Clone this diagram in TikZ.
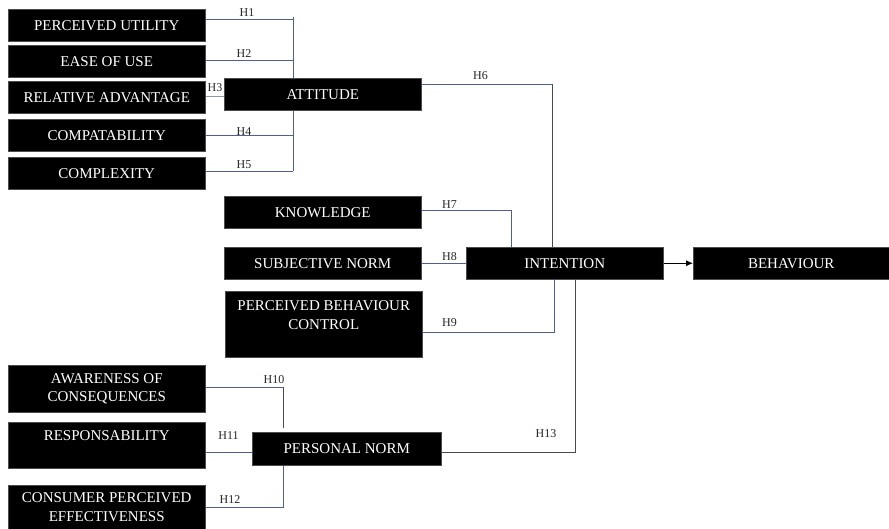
\documentclass[tikz,border=0pt]{standalone}
\usepackage{fontspec}
\setmainfont{Liberation Serif}
\usetikzlibrary{arrows.meta}
\pgfdeclarelayer{background}
\pgfsetlayers{background,main}
\definecolor{linkblue}{RGB}{78,96,145}
\definecolor{linkgray}{RGB}{75,75,75}
\tikzset{
  box/.style={fill=black, draw=black!70, line width=0.5pt, text=white, anchor=north west, inner sep=0pt,
    minimum width=197pt, minimum height=32pt, align=center, font=\fontsize{15}{18.5}\selectfont},
  hlabel/.style={font=\fontsize{12}{14}\selectfont, inner sep=0pt, text=black!85},
  link/.style={draw=linkblue, line width=0.9pt},
  glink/.style={draw=linkgray, line width=0.9pt},
}
\begin{document}
\begin{tikzpicture}[x=1pt,y=-1pt]
\useasboundingbox (0,0) rectangle (889,529);
% boxes
\node[box] (pu) at (8,9) {PERCEIVED UTILITY};
\node[box] (eou) at (8,45) {EASE OF USE};
\node[box] (ra) at (8,81) {RELATIVE ADVANTAGE};
\node[box] (comp) at (8,119) {COMPATABILITY};
\node[box] (cx) at (8,157) {COMPLEXITY};
\node[box] (att) at (224,78) {ATTITUDE};
\node[box] (kn) at (224,196) {KNOWLEDGE};
\node[box] (sn) at (224,247) {SUBJECTIVE NORM};
\node[box, minimum height=66pt] (pbc) at (225,291) {PERCEIVED BEHAVIOUR\\CONTROL\\\mbox{}};
\node[box] (int) at (466,247) {INTENTION};
\node[box, minimum width=196pt] (beh) at (693,247) {BEHAVIOUR};
\node[box, minimum height=47pt] (aw) at (8,365) {AWARENESS OF\\CONSEQUENCES};
\node[box, minimum height=46pt] (resp) at (8,422) {RESPONSABILITY\\\mbox{}};
\node[box, minimum height=44pt] (cpe) at (8,485) {CONSUMER PERCEIVED\\EFFECTIVENESS};
\node[box, minimum width=189pt, minimum height=33pt] (pn) at (252,432) {PERSONAL NORM};
% connectors
\begin{pgfonlayer}{background}
\coordinate (bus) at (293,17);
\coordinate (busend) at (293,171);
\draw[link] (bus) -- (busend);
\draw[link] (pu.east |- 0,19) -- (bus |- 0,19);
\draw[link] (eou.east |- 0,60) -- (bus |- 0,60);
\draw[link] (ra.east |- 0,96) -- (att.west |- 0,96) -- ++(4,0);
\draw[link] (comp.east |- 0,135) -- (bus |- 0,135);
\draw[link] (cx.east |- 0,171) -- (busend);
\coordinate (h6) at (552,84);
\draw[link] (att.east |- h6) -- (h6);
\draw[glink] (h6) -- (h6 |- int.north);
\coordinate (h7) at (511,210);
\draw[link] (kn.east |- h7) -- (h7) -- (h7 |- int.north);
\draw[link] (sn.east) -- (int.west) -- ++(4,0);
\coordinate (h9) at (554,332);
\draw[link] (pbc.east |- h9) -- (h9) -- (h9 |- int.south);
\coordinate (h13) at (575,452);
\draw[glink] (pn.east |- h13) -- (h13) -- (h13 |- int.south);
\coordinate (h10) at (283,387);
\draw[link] (aw.east |- h10) -- (h10);
\draw[glink] (h10) -- (283,428);
\draw[link] (resp.east |- 0,452) -- (pn.west |- 0,452);
\coordinate (h12) at (283,507);
\draw[link] (cpe.east |- h12) -- (h12) -- (h12 |- pn.south);
\end{pgfonlayer}
\draw[black, line width=0.9pt, -{Latex[length=7pt,width=6pt]}] (int.east) -- (beh.west);
% labels
\node[hlabel] (l1) at (247,12.5) {H1};
\node[hlabel] (l2) at (244,54) {H2};
\node[hlabel] (l3) at (215,87.5) {H3};
\node[hlabel] (l4) at (244,131.5) {H4};
\node[hlabel] (l5) at (244,164.5) {H5};
\node[hlabel] (l6) at (480.5,75.5) {H6};
\node[hlabel] (l7) at (449.5,205) {H7};
\node[hlabel] (l8) at (449.5,256.5) {H8};
\node[hlabel] (l9) at (449.5,322.5) {H9};
\node[hlabel] (l10) at (274,379.5) {H10};
\node[hlabel] (l11) at (228.5,436) {H11};
\node[hlabel] (l12) at (230,499.5) {H12};
\node[hlabel] (l13) at (546,434) {H13};
\end{tikzpicture}
\end{document}
